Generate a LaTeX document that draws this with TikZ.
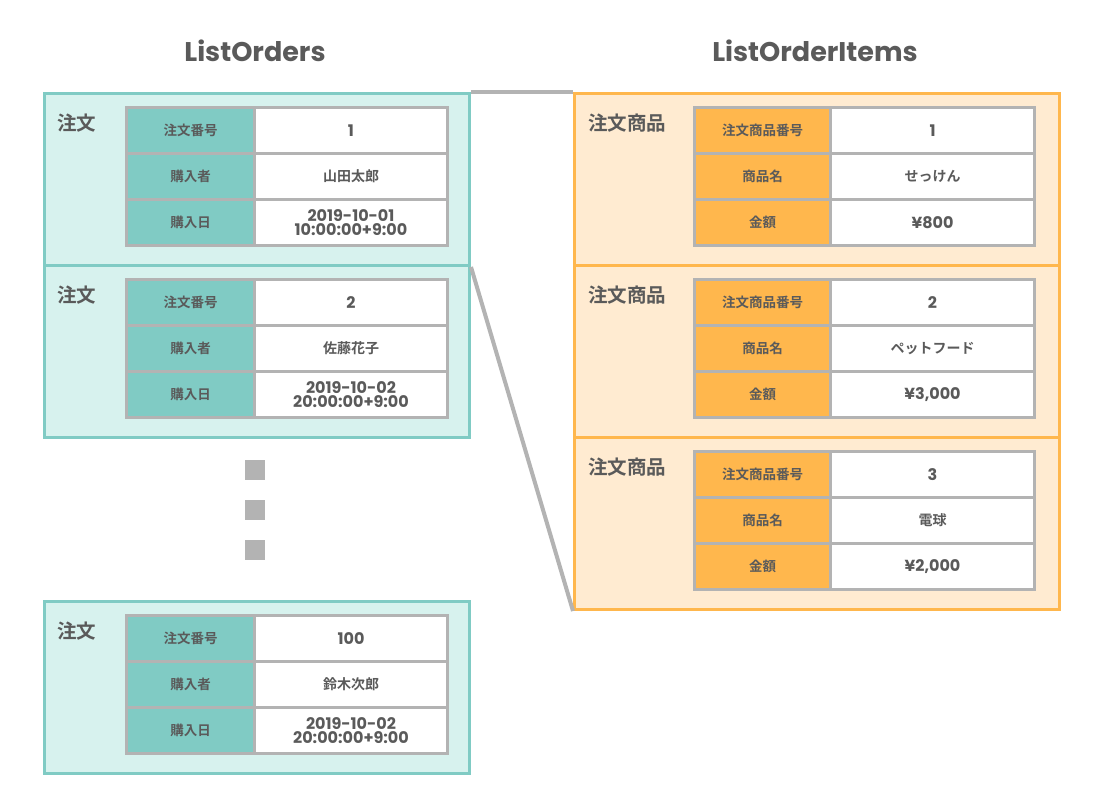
\documentclass[tikz,border=0pt]{standalone}
\usepackage{fontspec}
\setmainfont{Noto Sans CJK JP}[BoldFont={Noto Sans CJK JP Bold}]
\newfontfamily\latf{Poppins}
\definecolor{tealB}{HTML}{80CBC4}
\definecolor{tealF}{HTML}{D7F2EE}
\definecolor{orgB}{HTML}{FFB74D}
\definecolor{orgF}{HTML}{FFEBD1}
\definecolor{grayL}{HTML}{B3B3B3}
\definecolor{txt}{HTML}{5A5A5A}
\tikzset{
  obox/.style={draw=tealB, fill=tealF, line width=3pt, minimum width=425, minimum height=172, inner sep=0pt},
  ibox/.style={draw=orgB, fill=orgF, line width=3pt, minimum width=485, minimum height=172, inner sep=0pt},
  lbl/.style={text=txt, font=\fontsize{19.5}{21}\selectfont\bfseries, inner sep=0pt},
  cell/.style={draw=grayL, line width=3pt, minimum height=46, inner sep=0pt, text=txt, anchor=north west},
  hcellL/.style={cell, fill=tealB, minimum width=128, font=\fontsize{13.5}{15}\selectfont\bfseries},
  hcellR/.style={cell, fill=orgB, minimum width=136, font=\fontsize{13.5}{15}\selectfont\bfseries},
  vcellL/.style={cell, fill=white, minimum width=193, font=\fontsize{14}{15}\selectfont\bfseries, align=center},
  vcellR/.style={cell, fill=white, minimum width=204, font=\fontsize{14}{15}\selectfont\bfseries, align=center},
  numtxt/.style={font=\latf\fontsize{16}{14.5}\selectfont\bfseries},
  dotsq/.style={fill=grayL, minimum size=20, inner sep=0pt},
  title/.style={text=txt, font=\latf\fontsize{27}{28}\selectfont\bfseries, inner sep=0pt},
  link/.style={draw=grayL, line width=4pt}
}
\newcommand\orderblk[6]{%
  \node[obox, anchor=north west] (#1) at (43,#2) {};
  \node[lbl, anchor=west] (#1l) at (57,#2+31) {注文};
  \node[hcellL] (#1a) at (125,#2+14) {注文番号};
  \node[hcellL] (#1b) at (125,#2+60) {購入者};
  \node[hcellL] (#1c) at (125,#2+106) {購入日};
  \node[vcellL, numtxt] (#1x) at (253,#2+14) {#3};
  \node[vcellL] (#1y) at (253,#2+60) {#4};
  \node[vcellL, numtxt] (#1z) at (253,#2+106) {#5\\#6};
}
\newcommand\itemblk[5]{%
  \node[ibox, anchor=north west] (#1) at (573,#2) {};
  \node[lbl, anchor=west] (#1l) at (588,#2+31) {注文商品};
  \node[hcellR] (#1a) at (693,#2+14) {注文商品番号};
  \node[hcellR] (#1b) at (693,#2+60) {商品名};
  \node[hcellR] (#1c) at (693,#2+106) {金額};
  \node[vcellR, numtxt] (#1x) at (829,#2+14) {#3};
  \node[vcellR] (#1y) at (829,#2+60) {#4};
  \node[vcellR, numtxt] (#1z) at (829,#2+106) {#5};
}
\begin{document}
\begin{tikzpicture}[x=1pt,y=-1pt]
\useasboundingbox[fill=white] (0,0) rectangle (1100,800);
\node[title] (t1) at (255,51) {ListOrders};
\node[title] (t2) at (815,51) {ListOrderItems};
\orderblk{o1}{92}{1}{山田太郎}{2019-10-01}{10:00:00+9:00}
\orderblk{o2}{264}{2}{佐藤花子}{2019-10-02}{20:00:00+9:00}
\orderblk{o3}{600}{100}{鈴木次郎}{2019-10-02}{20:00:00+9:00}
\itemblk{i1}{92}{1}{せっけん}{¥800}
\itemblk{i2}{264}{2}{ペットフード}{¥3,000}
\itemblk{i3}{436}{3}{電球}{¥2,000}
\node[dotsq] (d1) at (255,470) {};
\node[dotsq] (d2) at (255,510) {};
\node[dotsq] (d3) at (255,550) {};
\draw[link] (o1.north east) -- (i1.north west);
\draw[link] (o1.south east) -- (i3.south west);
\end{tikzpicture}
\end{document}
